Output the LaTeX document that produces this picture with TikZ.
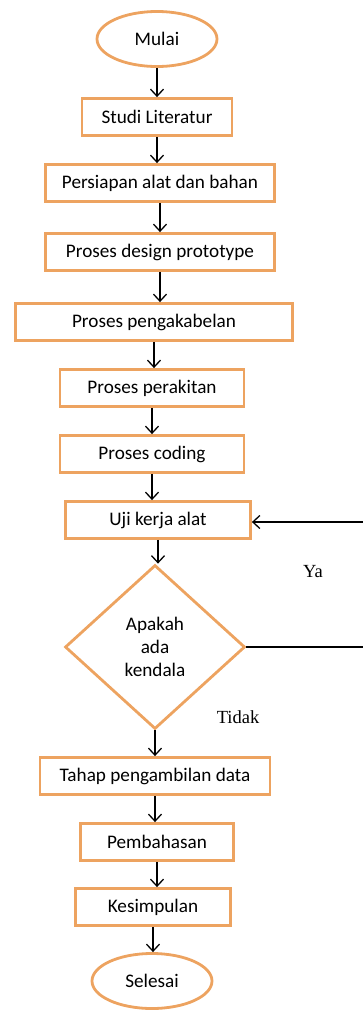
\documentclass[tikz,border=0pt]{standalone}
\usepackage{fontspec}
\usepackage{tikz}
\usetikzlibrary{shapes.geometric,arrows.meta}
\newfontfamily\boxfont{Carlito}
\newfontfamily\notefont{Liberation Serif}
\definecolor{boxorange}{RGB}{237,163,96}
\tikzset{every node/.style={align=center}, >={Straight Barb[length=7pt,width=13pt]},
    font=\boxfont\fontsize{19.2}{23}\selectfont,
    proc/.style={draw=boxorange, line width=2.8pt, rectangle, minimum height=37pt, inner sep=0pt},
    term/.style={draw=boxorange, line width=2.8pt, ellipse, minimum width=120pt, minimum height=55pt, inner sep=0pt},
    cond/.style={draw=boxorange, line width=2.8pt, diamond, minimum width=180pt, minimum height=164pt, inner sep=0pt},
    note/.style={font=\notefont\fontsize{18.5}{23}\selectfont}}

\begin{document}
\begin{tikzpicture}[x=1pt, y=1pt, node distance=66pt, line width=1.3pt]
    \useasboundingbox (0,0) rectangle (362,-1010);
    \node[term] (s0) at (157,-39) {Mulai};
    \node[proc, minimum width=150pt] (s1) [below of = s0, node distance=78pt] {Studi Literatur};
    \node[proc, minimum width=229pt] (s2) [below of = s1, xshift=3pt] {Persiapan alat dan bahan};
    \node[proc, minimum width=229pt] (s3) [below of = s2, node distance=69pt] {Proses design prototype};
    \node[proc, minimum width=277pt] (s4) [below of = s3, node distance=70pt, xshift=-6pt] {Proses pengakabelan};
    \node[proc, minimum width=184pt] (s5) [below of = s4, xshift=-2pt] {Proses perakitan};
    \node[proc, minimum width=184pt] (s6) [below of = s5] {Proses coding};
    \node[proc, minimum width=185pt] (s7) [below of = s6, xshift=6pt] {Uji kerja alat};
    \node[cond] (s8) [below of = s7, node distance=127pt, xshift=-3pt] {Apakah\\ada\\kendala};
    \node[proc, minimum width=230pt] (s9) [below of = s8, node distance=129pt] {Tahap pengambilan data};
    \node[proc, minimum width=153pt] (s10) [below of = s9, xshift=2pt] {Pembahasan};
    \node[proc, minimum width=155pt] (s11) [below of = s10, node distance=65pt, xshift=-4pt] {Kesimpulan};
    \node[term] (s12) [below of = s11, node distance=74pt, xshift=-1pt] {Selesai};
    \node[note] (ya) at (313,-572) {Ya};
    \node[note] (tidak) at (238,-717) {Tidak};
    \coordinate (back) at (366,-522);
    \path[->] (s0) edge (s0 |- s1.north)
        (s1) edge (s1 |- s2.north)
        (s2) edge (s2 |- s3.north)
        (s3) edge (s3 |- s4.north)
        (s4) edge (s4 |- s5.north)
        (s5) edge (s5 |- s6.north)
        (s6) edge (s6 |- s7.north)
        (s7) edge (s7 |- s8.north)
        (s8) edge (s8 |- s9.north)
        (s9) edge (s9 |- s10.north)
        (s10) edge (s10 |- s11.north)
        (s11) edge (s11 |- s12.north);
    \draw[->] (s8.east) -| (back) -- (back -| s7.east);
\end{tikzpicture}
\end{document}
